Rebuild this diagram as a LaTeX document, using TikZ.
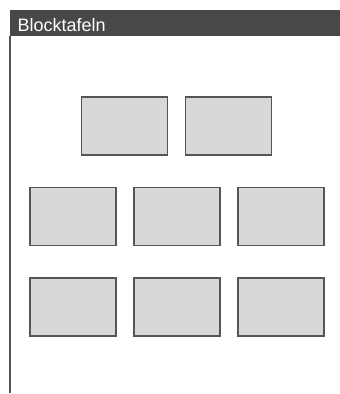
\documentclass[tikz,border=0pt]{standalone}
\usepackage{fontspec}
\setmainfont{Liberation Sans}
\usepackage{tikz}
\usetikzlibrary{positioning}
\definecolor{bardark}{HTML}{4A4846}
\definecolor{tablefill}{HTML}{D8D8D8}
\definecolor{tableline}{HTML}{555555}

\begin{document}
\begin{tikzpicture}[x=1pt,y=-1pt,
  tbl/.style={draw=tableline,fill=tablefill,line width=1.4pt,minimum width=86pt,minimum height=58pt,inner sep=0pt},
  ttl/.style={text=white,font=\fontsize{18}{21}\selectfont,inner sep=0pt,anchor=base west}]
 \useasboundingbox (0,0) rectangle (340,394);
 % header bar and left edge
 \fill[bardark] (10,10) rectangle (340,35.5);
 \node[ttl] (title) at (17.5,31) {Blocktafeln};
 \coordinate (edgetop) at (10,35.5);
 \coordinate (edgebot) at (10,393);
 \draw[tableline,line width=1.3pt] (edgetop) -- (edgebot);
 % rows of tables
 \node[tbl] (A1) at (124.5,126) {};
 \node[tbl] (A2) at (228.5,126) {};
 \foreach \i/\x in {1/73,2/177,3/281} {
   \node[tbl] (B\i) at (\x,216.5) {};
   \node[tbl] (C\i) at (\x,307) {};
 }
\end{tikzpicture}
\end{document}
